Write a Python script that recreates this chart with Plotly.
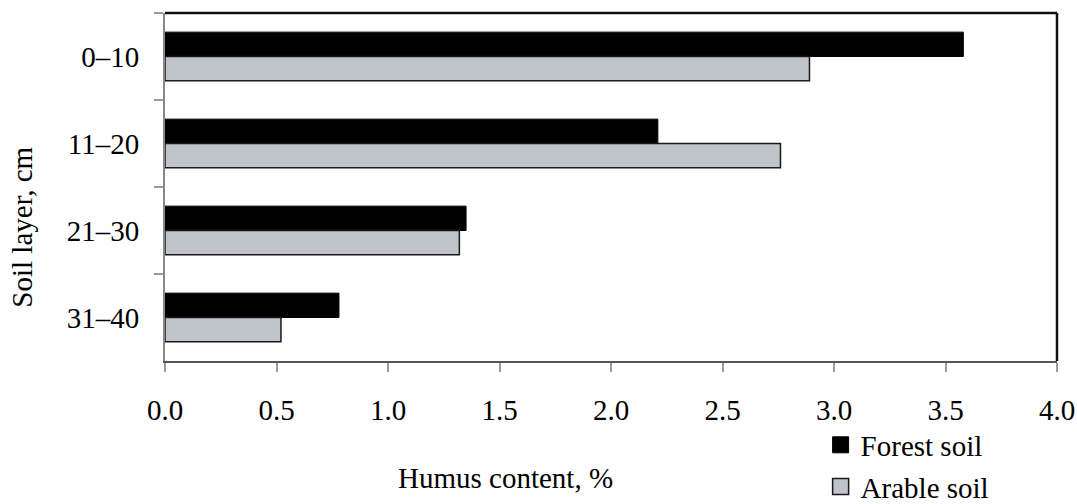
import plotly.graph_objects as go

layers = ["0–10", "11–20", "21–30", "31–40"]
forest = [3.58, 2.21, 1.35, 0.78]
arable = [2.89, 2.76, 1.32, 0.52]
x_ticks = [0.0, 0.5, 1.0, 1.5, 2.0, 2.5, 3.0, 3.5, 4.0]
x_tick_labels = ["0.0", "0.5", "1.0", "1.5", "2.0", "2.5", "3.0", "3.5", "4.0"]

FONT = "Liberation Serif, Times New Roman, serif"
FS = 29
FOREST_COLOR = "#000000"
ARABLE_COLOR = "#BFC3CA"

fig = go.Figure()
fig.add_trace(go.Bar(
    y=layers, x=forest, orientation="h", name="Forest soil", showlegend=False,
    marker=dict(color=FOREST_COLOR, line=dict(color="#000000", width=1)),
))
fig.add_trace(go.Bar(
    y=layers, x=arable, orientation="h", name="Arable soil", showlegend=False,
    marker=dict(color=ARABLE_COLOR, line=dict(color="#1a1a1a", width=1.5)),
))
# legend entries with larger square keys
fig.add_trace(go.Scatter(
    x=[None], y=[None], mode="markers", name="Forest soil", hoverinfo="skip",
    legendgroup="f",
    marker=dict(symbol="square", size=16, color=FOREST_COLOR,
                line=dict(color="#000000", width=1)),
))
fig.add_trace(go.Scatter(
    x=[None], y=[None], mode="markers", name="Arable soil", hoverinfo="skip",
    legendgroup="a",
    marker=dict(symbol="square", size=16, color=ARABLE_COLOR,
                line=dict(color="#1a1a1a", width=1.5)),
))

fig.update_layout(
    width=1077, height=504,
    margin=dict(l=165, r=20, t=13, b=143, autoexpand=False),
    paper_bgcolor="white", plot_bgcolor="white",
    barmode="group", bargap=0.44, bargroupgap=0,
    font=dict(family=FONT, size=FS, color="black"),
    showlegend=True,
    legend=dict(
        x=0.735, y=-0.168, xanchor="left", yanchor="top",
        font=dict(family=FONT, size=FS, color="black"),
        bgcolor="rgba(0,0,0,0)", traceorder="grouped", tracegroupgap=1,
        itemsizing="trace", itemwidth=30,
    ),
    xaxis=dict(
        range=[0, 4], tickvals=x_ticks, ticktext=x_tick_labels,
        showgrid=False, zeroline=False, automargin=False,
        showline=True, linecolor="#555555", linewidth=2,
        ticks="outside", ticklen=9, tickwidth=1.5, tickcolor="#9a9a9a",
        ticklabelstandoff=13,
        tickfont=dict(family=FONT, size=FS, color="black"),
    ),
    yaxis=dict(
        autorange="reversed", type="category", automargin=False,
        showgrid=False, zeroline=False,
        showline=True, linecolor="#888888", linewidth=2,
        ticks="outside", ticklen=9, tickwidth=1.5, tickcolor="#9a9a9a",
        tickson="boundaries", ticklabelstandoff=18,
        tickfont=dict(family=FONT, size=FS, color="black"),
    ),
    shapes=[
        dict(type="line", xref="paper", yref="paper", x0=0, x1=1, y0=1, y1=1,
             line=dict(color="#111111", width=2.5)),
        dict(type="line", xref="paper", yref="paper", x0=1, x1=1, y0=0, y1=1,
             line=dict(color="#111111", width=2.5)),
    ],
    annotations=[
        dict(text="Humus content, %", xref="paper", yref="paper",
             x=0.382, y=-0.336, xanchor="center", yanchor="middle",
             showarrow=False, font=dict(family=FONT, size=FS, color="black")),
        dict(text="Soil layer, cm", xref="paper", yref="paper",
             x=-0.160, y=0.384, xanchor="center", yanchor="middle", textangle=-90,
             showarrow=False, font=dict(family=FONT, size=FS, color="black")),
    ],
)

fig.write_html(
    "out.html",
    config={"displayModeBar": False},
    post_script="document.body.style.margin='0';document.body.style.overflow='hidden';",
)
